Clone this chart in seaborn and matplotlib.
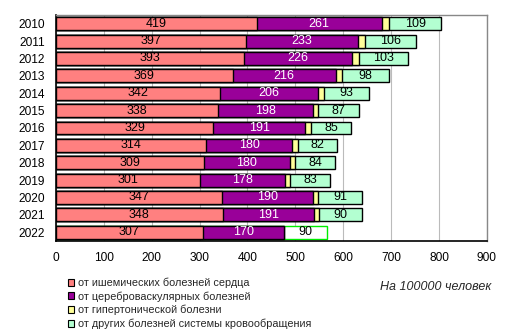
import matplotlib
matplotlib.use("Agg")
import matplotlib.pyplot as plt
import seaborn as sns
import pandas as pd
import numpy as np
from matplotlib.patches import Patch

years = ["2010", "2011", "2012", "2013", "2014", "2015", "2016",
         "2017", "2018", "2019", "2020", "2021", "2022"]
ischemic = [419, 397, 393, 369, 342, 338, 329, 314, 309, 301, 347, 348, 307]
cerebro = [261, 233, 226, 216, 206, 198, 191, 180, 180, 178, 190, 191, 170]
hypert = [16, 15, 13, 13, 12, 11, 12, 12, 10, 10, 11, 10, 0]
other = [109, 106, 103, 98, 93, 87, 85, 82, 84, 83, 91, 90, 90]
series_names = ["от ишемических болезней сердца",
                "от цереброваскулярных болезней",
                "от гипертонической болезни",
                "от других болезней системы кровообращения"]
colors = ["#FF8080", "#990099", "#FFFF99", "#B3FFD1"]

sns.set_theme(style="white")
plt.rcParams['font.family'] = ['Liberation Sans', 'DejaVu Sans']

df = pd.DataFrame({"year": years, "a": ischemic, "b": cerebro,
                   "c": hypert, "d": other})
df["c1"] = df["a"]
df["c2"] = df["a"] + df["b"]
df["c3"] = df["c2"] + df["c"]
df["c4"] = df["c3"] + df["d"]

fig = plt.figure(figsize=(5.12, 3.35), dpi=100)
ax = fig.add_axes([0.109, 0.281, 0.842, 0.674])

bh = 0.74
for col, color in zip(["c4", "c3", "c2", "c1"], colors[::-1]):
    sns.barplot(data=df, x=col, y="year", order=years, orient="h",
                color=color, saturation=1, width=bh, edgecolor="black",
                linewidth=1.0, ax=ax, errorbar=None)

# 2022 'other' bar: white fill with green edge
n = len(years)
last_total = ax.patches[n - 1]
last_total.set_facecolor("white")
last_total.set_edgecolor("#00EE00")

# labels
fs = 9
for i in range(n):
    ax.text(ischemic[i] / 2, i, str(ischemic[i]), ha="center", va="center",
            fontsize=fs, color="black")
    ax.text(ischemic[i] + cerebro[i] / 2, i, str(cerebro[i]), ha="center",
            va="center", fontsize=fs, color="white")
    x0 = ischemic[i] + cerebro[i] + hypert[i]
    ax.text(x0 + other[i] / 2, i, str(other[i]), ha="center", va="center",
            fontsize=fs, color="black")

ax.set_xlim(0, 900)
ax.set_xticks(range(0, 901, 100))
ax.set_ylim(n - 0.5, -0.5)
ax.set_xlabel("")
ax.set_ylabel("")
ax.grid(axis="x", color="#BBBBBB", linewidth=0.8)
ax.set_axisbelow(True)
ax.tick_params(axis="both", length=0, labelsize=8.6, colors="black")
ax.tick_params(axis="x", pad=8)
ax.tick_params(axis="y", pad=8)
for s in ["top", "right"]:
    ax.spines[s].set_color("#888888")
    ax.spines[s].set_linewidth(1.0)
for s in ["left", "bottom"]:
    ax.spines[s].set_color("black")
    ax.spines[s].set_linewidth(1.2)

handles = [Patch(facecolor=c, edgecolor="black", linewidth=0.8) for c in colors]
fig.legend(handles, series_names, loc="upper left",
           bbox_to_anchor=(0.122, 0.188), frameon=False,
           fontsize=7.8, handlelength=0.6, handleheight=0.6,
           handletextpad=0.3, labelspacing=0.3, borderpad=0)
fig.text(0.742, 0.143, "На 100000 человек", fontsize=9, style="italic",
         ha="left", va="center")

fig.savefig("out.png", dpi=100)
